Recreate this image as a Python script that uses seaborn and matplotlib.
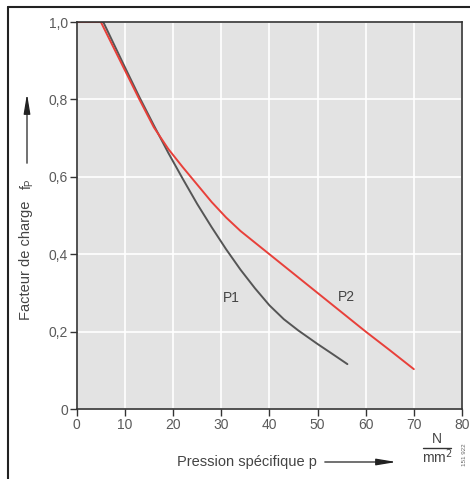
import numpy as np
import pandas as pd
import seaborn as sns
import matplotlib.pyplot as plt
from matplotlib.lines import Line2D

# Courbes (pression N/mm2 -> facteur de charge)
p1_pression = [0, 5.5, 10, 13, 16, 19, 22, 25, 28, 31, 34, 37, 40, 43, 46, 50, 53, 56.2]
p1_facteur = [1.0, 1.0, 0.883, 0.806, 0.733, 0.662, 0.595, 0.530, 0.470, 0.413, 0.360,
              0.312, 0.268, 0.232, 0.203, 0.168, 0.143, 0.116]

p2_pression = [0, 5, 10, 13, 16, 19, 22, 25, 28, 31, 34, 37, 40, 45, 50, 55, 60, 65, 70]
p2_facteur = [1.0, 1.0, 0.875, 0.80, 0.728, 0.672, 0.625, 0.58, 0.535, 0.495, 0.46, 0.43,
              0.40, 0.35, 0.30, 0.25, 0.20, 0.152, 0.103]

x_ticks = [0, 10, 20, 30, 40, 50, 60, 70, 80]
y_ticks = [0, 0.2, 0.4, 0.6, 0.8, 1.0]
y_tick_labels = ['0', '0,2', '0,4', '0,6', '0,8', '1,0']

df = pd.concat([
    pd.DataFrame({'p': p1_pression, 'f': p1_facteur, 'courbe': 'P1'}),
    pd.DataFrame({'p': p2_pression, 'f': p2_facteur, 'courbe': 'P2'}),
])

sns.set_style('whitegrid', {'axes.facecolor': '#e3e3e3', 'grid.color': 'white',
                            'axes.edgecolor': '#333333'})
plt.rcParams['font.family'] = ['Liberation Sans', 'DejaVu Sans']

fig = plt.figure(figsize=(4.7, 4.79), dpi=100)
ax = fig.add_axes([0.1634, 0.1461, 0.983 - 0.1634, 0.954 - 0.1461])

sns.lineplot(data=df, x='p', y='f', hue='courbe', palette={'P1': '#555555', 'P2': '#e8403a'},
             linewidth=1.4, legend=False, ax=ax, estimator=None, sort=False)

ax.set_xlim(0, 80)
ax.set_ylim(0, 1.0)
ax.set_xticks(x_ticks)
ax.set_yticks(y_ticks)
ax.set_yticklabels(y_tick_labels)
ax.grid(True, color='white', linewidth=1.2)
ax.tick_params(axis='both', direction='out', length=5, width=1, color='#333333',
               labelsize=10, labelcolor='#5a5a5a', bottom=True, left=True, pad=1.5)
for s in ax.spines.values():
    s.set_linewidth(1.2)
    s.set_color('#333333')
ax.set_xlabel('')
ax.set_ylabel('')

# etiquettes des courbes
ax.text(32.0, 0.287, 'P1', fontsize=10, color='#444444', ha='center', va='center')
ax.text(56.1, 0.29, 'P2', fontsize=10, color='#444444', ha='center', va='center')

# titre axe y + fleche
fig.text(26 / 470, 1 - 260 / 479, 'Facteur de charge', rotation=90, fontsize=10.5,
         color='#444444', ha='center', va='center')
fig.text(27 / 470, 1 - 184 / 479, r'$\mathregular{f_P}$', rotation=90, fontsize=10,
         color='#444444', ha='center', va='center')
fig.add_artist(plt.Annotation('', xy=(27 / 470, 1 - 91 / 479), xytext=(27 / 470, 1 - 166 / 479),
                              xycoords='figure fraction', textcoords='figure fraction',
                              arrowprops=dict(arrowstyle='-|>,head_length=1.2,head_width=0.2',
                                              color='#222222', lw=0.9, mutation_scale=10)))

# titre axe x + fleche
fig.text(247 / 470, 1 - 462 / 479, 'Pression spécifique p', fontsize=10.5,
         color='#444444', ha='center', va='center')
fig.add_artist(plt.Annotation('', xy=(399 / 470, 1 - 462 / 479), xytext=(322 / 470, 1 - 462 / 479),
                              xycoords='figure fraction', textcoords='figure fraction',
                              arrowprops=dict(arrowstyle='-|>,head_length=1.2,head_width=0.2',
                                              color='#222222', lw=0.9, mutation_scale=10)))

# unite N/mm2
fig.text(437 / 470, 1 - 439 / 479, 'N', fontsize=10, color='#444444', ha='center', va='center')
fig.add_artist(Line2D([423 / 470, 451 / 470], [1 - 448 / 479, 1 - 448 / 479], color='#333333', lw=1))
fig.text(437 / 470, 1 - 457 / 479, r'mm$^2$', fontsize=10, color='#444444', ha='center', va='center')
fig.text(465 / 470, 1 - 455 / 479, '151 922', rotation=90, fontsize=4.5, color='#666666',
         ha='center', va='center')

# cadre exterieur
fig.add_artist(Line2D([8 / 470, 1.0], [1 - 7 / 479, 1 - 7 / 479], color='#222222', lw=1.5))
fig.add_artist(Line2D([8 / 470, 8 / 470], [0, 1 - 7 / 479], color='#222222', lw=1.5))

plt.savefig('out.png', dpi=100)
plt.close()
